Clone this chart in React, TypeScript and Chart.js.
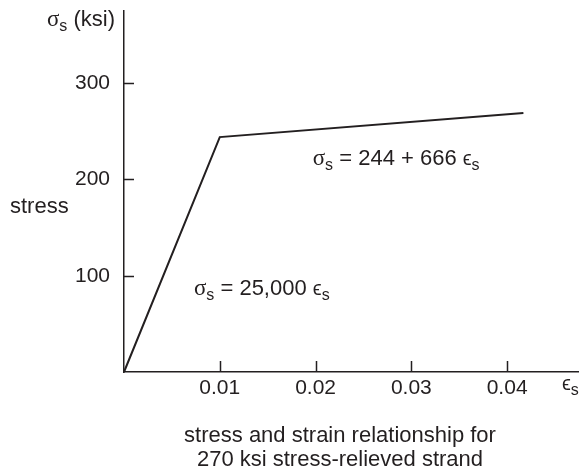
import React, { useEffect, useRef } from 'react';
import { Chart, registerables } from 'chart.js';

Chart.register(...registerables);

// ---- data ----
const strain = [0, 0.01, 0.0417];
const stress = [0, 244, 269];
const xTicks = [0.01, 0.02, 0.03, 0.04];
const yTicks = [100, 200, 300];
const xMax = 0.0474;
const yMax = 375;
const yAxisLabel = 'stress';
const yUnit = ' (ksi)';
const eqUpper = ['= 244 + 666'];
const eqLower = ['= 25,000'];
const captionLines = ['stress and strain relationship for', '270 ksi stress-relieved strand'];

// ---- styles ----
const INK = '#231f20';
const SANS = '"Liberation Sans", Arial, Helvetica, sans-serif';
const SERIF = '"Liberation Serif", "Times New Roman", serif';
const FS = 22;
const TFS = 21;

type Part = { t: string; f: string; dy?: number };

function drawParts(ctx: CanvasRenderingContext2D, parts: Part[], x: number, y: number, align: 'left' | 'right' | 'center') {
  let w = 0;
  for (const p of parts) {
    ctx.font = p.f;
    w += ctx.measureText(p.t).width;
  }
  let cx = align === 'left' ? x : align === 'right' ? x - w : x - w / 2;
  ctx.textAlign = 'left';
  ctx.textBaseline = 'alphabetic';
  for (const p of parts) {
    ctx.font = p.f;
    ctx.fillText(p.t, cx, y + (p.dy || 0));
    cx += ctx.measureText(p.t).width;
  }
}

const sigma = (): Part[] => [
  { t: 'σ', f: `${FS + 1}px ${SERIF}` },
  { t: 's', f: `${FS - 6}px ${SANS}`, dy: 5 },
];
const eps = (): Part[] => [
  { t: 'ϵ', f: `${FS - 2}px ${SANS}` },
  { t: 's', f: `${FS - 6}px ${SANS}`, dy: 5 },
];

const decorPlugin = {
  id: 'decor',
  afterDraw(chart: any) {
    const ctx: CanvasRenderingContext2D = chart.ctx;
    const xs = chart.scales.x;
    const ys = chart.scales.y;
    const area = chart.chartArea;
    ctx.save();
    // inward tick marks
    ctx.strokeStyle = INK;
    ctx.lineWidth = 1.5;
    ctx.beginPath();
    for (const v of xTicks) {
      const px = Math.round(xs.getPixelForValue(v)) + 0.5;
      ctx.moveTo(px, area.bottom);
      ctx.lineTo(px, area.bottom - 11);
    }
    for (const v of yTicks) {
      const py = Math.round(ys.getPixelForValue(v)) + 0.5;
      ctx.moveTo(area.left, py);
      ctx.lineTo(area.left + 10, py);
    }
    ctx.stroke();

    ctx.fillStyle = INK;
    const sansF = `${FS}px ${SANS}`;
    // y unit label at top
    drawParts(ctx, [...sigma(), { t: yUnit, f: sansF }], area.left - 9, area.top + 15, 'right');
    // y axis word
    drawParts(ctx, [{ t: yAxisLabel, f: sansF }], 10, ys.getPixelForValue(165), 'left');
    // x unit label
    drawParts(ctx, eps(), xs.getPixelForValue(xMax) - 16, area.bottom + 18, 'left');
    // equations
    drawParts(
      ctx,
      [...sigma(), { t: ' ' + eqUpper[0] + ' ', f: sansF }, ...eps()],
      xs.getPixelForValue(0.0197),
      ys.getPixelForValue(215),
      'left'
    );
    drawParts(
      ctx,
      [...sigma(), { t: ' ' + eqLower[0] + ' ', f: sansF }, ...eps()],
      xs.getPixelForValue(0.0073),
      ys.getPixelForValue(80),
      'left'
    );
    // caption
    const cx = 340;
    drawParts(ctx, [{ t: captionLines[0], f: sansF }], cx, 442, 'center');
    drawParts(ctx, [{ t: captionLines[1], f: sansF }], cx, 466, 'center');
    ctx.restore();
  },
};

const zeroPad = (scale: any) => {
  scale.paddingTop = 0;
  scale.paddingBottom = 0;
  scale.paddingLeft = 0;
  scale.paddingRight = 0;
};

export default function App() {
  const ref = useRef<HTMLCanvasElement | null>(null);
  useEffect(() => {
    if (!ref.current) return;
    const chart = new Chart(ref.current, {
      type: 'scatter',
      data: {
        datasets: [
          {
            data: strain.map((s, i) => ({ x: s, y: stress[i] })),
            showLine: true,
            borderColor: INK,
            borderWidth: 2,
            pointRadius: 0,
            tension: 0,
            clip: false as any,
          },
        ],
      },
      options: {
        animation: false,
        responsive: false,
        devicePixelRatio: 1,
        layout: { padding: { top: 11, right: 1, left: 0, bottom: 0 } },
        plugins: { legend: { display: false }, tooltip: { enabled: false }, title: { display: false } },
        scales: {
          x: {
            type: 'linear',
            position: 'bottom',
            min: 0,
            max: xMax,
            grid: { display: true, drawOnChartArea: false, drawTicks: false, color: 'rgba(0,0,0,0)' },
            border: { display: true, color: INK, width: 1.5 },
            afterBuildTicks: (scale: any) => {
              scale.ticks = xTicks.map((v) => ({ value: v }));
            },
            afterFit: (scale: any) => {
              scale.height = 98;
              zeroPad(scale);
            },
            ticks: {
              color: INK,
              font: { family: SANS, size: TFS },
              padding: 4,
              maxRotation: 0,
              callback: (v: any) => Number(v).toFixed(2),
            },
          },
          y: {
            type: 'linear',
            position: 'left',
            min: 0,
            max: yMax,
            grid: { display: true, drawOnChartArea: false, drawTicks: false, color: 'rgba(0,0,0,0)' },
            border: { display: true, color: INK, width: 1.5 },
            afterBuildTicks: (scale: any) => {
              scale.ticks = yTicks.map((v) => ({ value: v }));
            },
            afterFit: (scale: any) => {
              scale.width = 124;
              zeroPad(scale);
            },
            ticks: {
              color: INK,
              font: { family: SANS, size: TFS },
              padding: 14,
              callback: (v: any) => String(v),
            },
          },
        },
      },
      plugins: [decorPlugin],
    });
    return () => chart.destroy();
  }, []);
  return (
    <div style={{ position: 'absolute', left: 0, top: 0, width: 579, height: 470, background: '#fff' }}>
      <canvas ref={ref} width={579} height={470} style={{ display: 'block' }} />
    </div>
  );
}
